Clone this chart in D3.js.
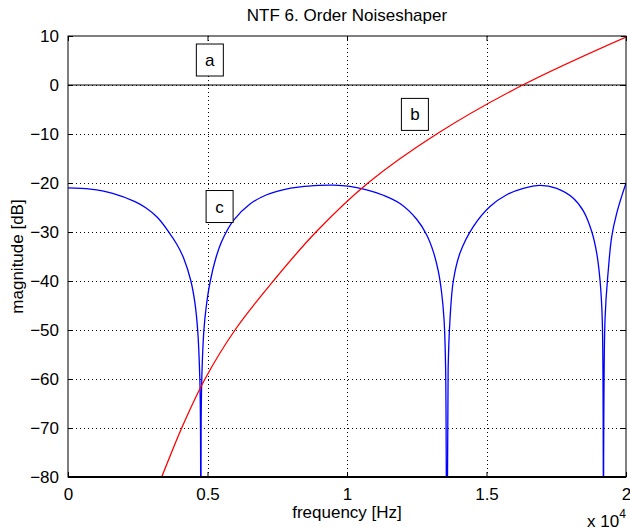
<!DOCTYPE html>
<html>
<head>
<meta charset="utf-8">
<script src="https://cdn.jsdelivr.net/npm/d3@7"></script>
<style>
  body { margin: 0; background: #fff; }
  text { font-family: "Liberation Sans", Arial, sans-serif; }
</style>
</head>
<body>
<svg id="chart" width="630" height="530"></svg>
<script>
// frequency axis ticks (Hz) and labels (x 10^4)
var xTicks = [0, 5000, 10000, 15000, 20000];
var xTickLabels = ["0", "0.5", "1", "1.5", "2"];
var yTicks = [10, 0, -10, -20, -30, -40, -50, -60, -70, -80];

// curve a: flat 0 dB
var aFreq = [0, 20000];
var aMag = [0, 0];

// curve b: red
var bFreq = [3000, 3358, 4075, 4910, 5986, 7358, 8889, 10753, 13215, 16297, 20000];
var bMag = [-85, -80, -70, -60, -50, -40, -30, -20, -10, 0, 9.8];

// curve c: blue NTF with three notches (notch points sit below the axis)
var cFreq = [0, 800, 1600, 2400, 2800, 3200, 3600, 3900, 4150, 4400, 4550, 4650, 4725, 4749, 4760, 4771, 4795,
  4871, 4960, 5100, 5300, 5520, 5925, 6523, 7122, 7700, 8323, 9000, 9509, 10107, 10706, 11301, 11900, 12498,
  12857, 13093, 13272, 13394, 13480, 13535, 13580, 13625, 13690, 13810, 14050, 14527, 15125, 15724, 16319,
  16917, 17516, 18111, 18470, 18771, 18950, 19068, 19150, 19190, 19247, 19365, 19487, 19666, 20000];
var cMag = [-21, -21.25, -22.1, -23.8, -25.1, -27, -29.9, -32.5, -35.4, -39.9, -44.5, -50.2, -60, -70, -120, -70, -60,
  -50, -45, -40, -35.3, -31.8, -27.7, -24.3, -22.4, -21.4, -20.8, -20.5, -20.45, -20.7, -21.4, -22.5, -24.2, -27.4,
  -30.6, -34, -38, -42.5, -48, -58, -120, -58, -48, -40, -34.3, -28.9, -24.8, -22.4, -21.1,
  -20.5, -21.1, -23.1, -25.7, -29.9, -34.3, -39.8, -48, -120, -48, -37.8, -31, -26.2, -20];

var labels = [
  {t: "a", f: 4600, v: 5.1},
  {t: "b", f: 11950, v: -6.0},
  {t: "c", f: 4950, v: -24.8}
];

var svg = d3.select("#chart"),
    pL = 68, pR = 626, pT = 36, pB = 477;

var x = d3.scaleLinear().domain([0, 20000]).range([pL, pR]);
var y = d3.scaleLinear().domain([-80, 10]).range([pB, pT]);

svg.append("defs").append("clipPath").attr("id", "clip")
  .append("rect").attr("x", pL).attr("y", pT).attr("width", pR - pL).attr("height", pB - pT);

// grid
var grid = svg.append("g").attr("stroke", "#000").attr("stroke-width", 1).attr("stroke-dasharray", "1,3");
grid.selectAll("line.gx").data(xTicks.slice(1, -1)).enter().append("line")
  .attr("x1", function (d) { return Math.round(x(d)) + 0.5; })
  .attr("x2", function (d) { return Math.round(x(d)) + 0.5; })
  .attr("y1", pT).attr("y2", pB);
grid.selectAll("line.gy").data(yTicks.slice(1, -1)).enter().append("line")
  .attr("y1", function (d) { return Math.round(y(d)) + 0.5; })
  .attr("y2", function (d) { return Math.round(y(d)) + 0.5; })
  .attr("x1", pL).attr("x2", pR);

// curves
var plot = svg.append("g").attr("clip-path", "url(#clip)");
function series(fr, mg) { return fr.map(function (f, i) { return [f, mg[i]]; }); }
var line = d3.line().x(function (d) { return x(d[0]); }).y(function (d) { return y(d[1]); })
  .curve(d3.curveCatmullRom.alpha(0.5));

plot.append("path").datum(series(aFreq, aMag)).attr("d", line)
  .attr("fill", "none").attr("stroke", "#000").attr("stroke-width", 1);
plot.append("path").datum(series(cFreq, cMag)).attr("d", line)
  .attr("fill", "none").attr("stroke", "#0000ff").attr("stroke-width", 1.3);
plot.append("path").datum(series(bFreq, bMag)).attr("d", line)
  .attr("fill", "none").attr("stroke", "#ff0000").attr("stroke-width", 1.3);

// axes box with inward ticks
var xAxisB = d3.axisBottom(x).tickValues(xTicks).tickSize(-5).tickFormat(function (d, i) { return xTickLabels[i]; }).tickPadding(11);
var xAxisT = d3.axisTop(x).tickValues(xTicks).tickSize(-5).tickFormat("");
var yAxisL = d3.axisLeft(y).tickValues(yTicks).tickSize(-5).tickFormat(function (d) { return d < 0 ? "\u2212" + (-d) : d; }).tickPadding(9);
var yAxisR = d3.axisRight(y).tickValues(yTicks).tickSize(-5).tickFormat("");

function style(g) {
  g.select(".domain").remove();
  g.selectAll("line").attr("stroke", "#000");
  g.selectAll("text").attr("font-size", 17).attr("fill", "#000");
}
svg.append("g").attr("transform", "translate(0," + pB + ")").call(xAxisB).call(style);
svg.append("g").attr("transform", "translate(0," + pT + ")").call(xAxisT).call(style);
svg.append("g").attr("transform", "translate(" + pL + ",0)").call(yAxisL).call(style);
svg.append("g").attr("transform", "translate(" + pR + ",0)").call(yAxisR).call(style);

svg.append("rect").attr("x", pL).attr("y", pT).attr("width", pR - pL).attr("height", pB - pT)
  .attr("fill", "none").attr("stroke", "#000").attr("stroke-width", 1);
svg.append("line").attr("x1", pL).attr("x2", pR).attr("y1", pB).attr("y2", pB)
  .attr("stroke", "#000").attr("stroke-width", 2);

// boxed labels
var lab = svg.selectAll("g.lab").data(labels).enter().append("g")
  .attr("transform", function (d) { return "translate(" + x(d.f) + "," + y(d.v) + ")"; });
lab.append("rect").attr("x", 0).attr("y", -16).attr("width", 27).attr("height", 32)
  .attr("fill", "#fff").attr("stroke", "#000").attr("stroke-width", 1);
lab.append("text").attr("x", 13.5).attr("y", 6).attr("text-anchor", "middle").attr("font-size", 17)
  .text(function (d) { return d.t; });

// titles
svg.append("text").attr("x", (pL + pR) / 2).attr("y", 21).attr("text-anchor", "middle")
  .attr("font-size", 17).text("NTF 6. Order Noiseshaper");
svg.append("text").attr("x", (pL + pR) / 2).attr("y", 518).attr("text-anchor", "middle")
  .attr("font-size", 17).text("frequency [Hz]");
svg.append("text").attr("transform", "translate(23," + (pT + pB) / 2 + ") rotate(-90)")
  .attr("text-anchor", "middle").attr("font-size", 17).text("magnitude [dB]");
var ex = svg.append("text").attr("x", 587).attr("y", 527).attr("font-size", 17);
ex.append("tspan").text("x 10");
ex.append("tspan").attr("dy", -9).attr("font-size", 12).text("4");
</script>
</body>
</html>
